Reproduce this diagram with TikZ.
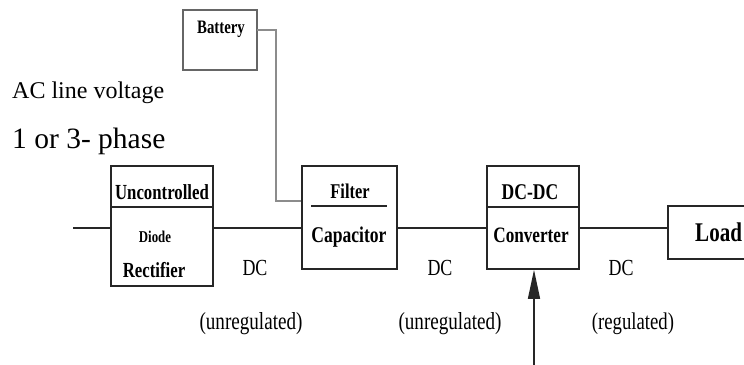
\documentclass[tikz,border=0pt]{standalone}
\usepackage{fontspec}
\usepackage{graphicx}
\setmainfont{Liberation Serif}
\usetikzlibrary{arrows.meta}
\tikzset{
  box/.style={draw=black!85, line width=1.6pt, minimum width=#1, inner sep=0pt},
  wire/.style={draw=black!85, line width=1.4pt},
  gwire/.style={draw=black!45, line width=1.4pt},
  lbl/.style={anchor=base, inner sep=0pt, text=black},
}
\newcommand{\fs}[1]{\fontsize{#1}{#1}\selectfont}
\newcommand{\cz}[2]{\scalebox{0.78}[1]{\fs{#1}#2}}
\begin{document}
\begin{tikzpicture}[x=1pt,y=-1pt]
\useasboundingbox (0,0) rectangle (744,364);
\clip (0,0) rectangle (744,364);
% boxes
\node[box=102pt, minimum height=120pt] (rect) at (162,226) {};
\node[box=95pt, minimum height=103pt] (filt) at (349.5,217.5) {};
\node[box=92pt, minimum height=103pt] (conv) at (533,217.5) {};
\node[box=92pt, minimum height=53pt] (load) at (714,232.5) {};
\node[draw=black!60, line width=1.4pt, minimum width=74pt, minimum height=60pt, inner sep=0pt] (batt) at (220,40) {};
% dividers
\draw[wire] (rect.west |- 0,207) -- (rect.east |- 0,207);
\draw[wire] (311,206) -- (387,206);
\draw[wire] (conv.west |- 0,207) -- (conv.east |- 0,207);
% wires
\coordinate (in) at (73,228);
\draw[wire] (in) -- (rect.west |- in);
\draw[wire] (rect.east |- in) -- (filt.west |- in);
\draw[wire] (filt.east |- in) -- (conv.west |- in);
\draw[wire] (conv.east |- in) -- (load.west |- in);
\coordinate (bw) at (257,30);
\draw[gwire] (bw) -- (276,30) -- (276,201) -- (filt.west |- 0,201);
\coordinate (ctl) at (534,366);
\draw[wire, -{Triangle[length=29pt,width=12pt]}] (ctl) -- (conv.south -| ctl);
% texts
\node[lbl, anchor=base west] (ac) at (12,98) {\fs{24}AC line voltage};
\node[lbl, anchor=base west] (ph) at (12,148) {\fs{29.5}1 or 3- phase};
\node[lbl] (tb) at (221,33) {\cz{19}{\bfseries Battery}};
\node[lbl] (t1) at (162,199) {\cz{21.5}{\bfseries Uncontrolled}};
\node[lbl] (t2) at (155,242) {\cz{16.5}{\bfseries Diode}};
\node[lbl] (t3) at (154,277) {\cz{21.5}{\bfseries Rectifier}};
\node[lbl] (t4) at (350,198) {\cz{21}{\bfseries Filter}};
\node[lbl] (t5) at (349,242) {\cz{22.5}{\bfseries Capacitor}};
\node[lbl] (t6) at (530,199) {\cz{22.5}{\bfseries DC-DC}};
\node[lbl] (t7) at (531,242) {\cz{22}{\bfseries Converter}};
\node[lbl, anchor=base west] (t8) at (695,241) {\cz{27}{\bfseries Load}};
\node[lbl] (d1) at (255,275) {\cz{23}{DC}};
\node[lbl] (d2) at (440,275) {\cz{23}{DC}};
\node[lbl] (d3) at (621,275) {\cz{23}{DC}};
\node[lbl] (u1) at (251,329) {\cz{24.5}{(unregulated)}};
\node[lbl] (u2) at (450,329) {\cz{24.5}{(unregulated)}};
\node[lbl] (u3) at (633,329) {\cz{24}{(regulated)}};
\end{tikzpicture}
\end{document}
